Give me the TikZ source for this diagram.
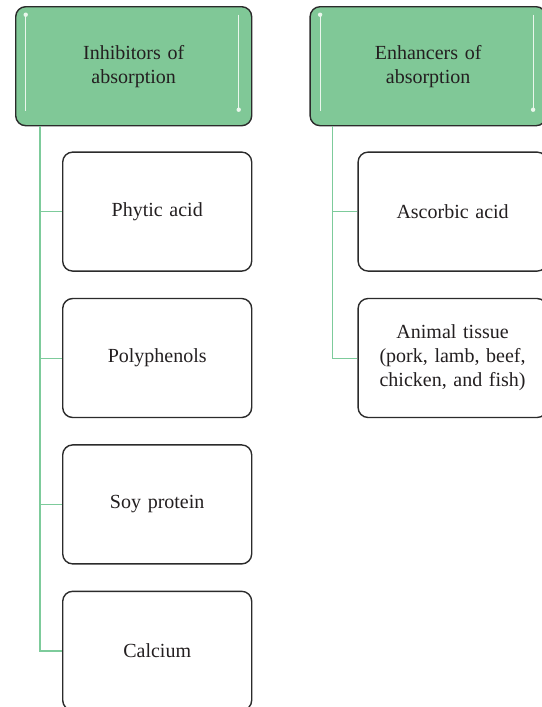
\documentclass[tikz,border=0pt]{standalone}
\usepackage{fontspec}
\setmainfont{Liberation Serif}
\usepackage{tikz}
\usetikzlibrary{positioning}
\definecolor{leafgreen}{HTML}{80C897}
\definecolor{stemgreen}{HTML}{7DCB9B}
\definecolor{boxline}{HTML}{2B2B2B}
\definecolor{textdark}{HTML}{231F20}
\definecolor{shine}{HTML}{EAF6EC}
\tikzset{
	factor/.style={
		draw=boxline, line width=0.7pt, rounded corners=5pt, fill=white,
		minimum width=94.5pt, minimum height=59.5pt, inner sep=2pt,
		text width=90pt, align=center, text=textdark,
		font=\fontsize{10}{12}\selectfont
	},
	group head/.style={
		factor, fill=leafgreen, minimum width=118pt, text width=100pt,
		path picture={
			\draw[shine, line width=0.5pt]
				([xshift=5pt, yshift=-4pt]path picture bounding box.north west) --
				([xshift=5pt, yshift=7.5pt]path picture bounding box.south west);
			\fill[shine] ([xshift=5pt, yshift=-4pt]path picture bounding box.north west) circle (1.1pt);
			\draw[shine, line width=0.5pt]
				([xshift=-6.5pt, yshift=-4pt]path picture bounding box.north east) --
				([xshift=-6.5pt, yshift=8pt]path picture bounding box.south east);
			\fill[shine] ([xshift=-6.5pt, yshift=8pt]path picture bounding box.south east) circle (1.1pt);
		}
	},
	stem/.style={draw=stemgreen, line width=1pt},
	twig/.style={draw=stemgreen, line width=0.5pt}
}
\begin{document}
\begin{tikzpicture}[node distance=13pt]
    \useasboundingbox (0,0) rectangle (270.5pt,-353.5pt);
    \node[group head, anchor=north west] (inh) at (7.5pt,-3pt) {Inhibitors of\\absorption};
    \node[group head, right=28.5pt of inh] (enh) {Enhancers of\\absorption};

    \node[factor, below right=12.5pt and 23.5pt of inh.south west] (phy) {Phytic acid};
    \node[factor, below=of phy] (pol) {Polyphenols};
    \node[factor, below=of pol] (soy) {Soy protein};
    \node[factor, below=of soy] (cal) {Calcium};

    \node[factor, below right=12.5pt and 24pt of enh.south west] (asc) {Ascorbic acid};
    \node[factor, below=of asc] (ani) {Animal tissue\\(pork, lamb, beef,\\chicken, and fish)};

    \coordinate (inh-stem) at ([xshift=12.5pt]inh.south west);
    \coordinate (enh-stem) at ([xshift=11.5pt]enh.south west);

    \draw [stem] (inh-stem) |- (cal.west);
    \draw [twig] (phy.west) -- (phy.west -| inh-stem);
    \draw [twig] (pol.west) -- (pol.west -| inh-stem);
    \draw [twig] (soy.west) -- (soy.west -| inh-stem);

    \draw [twig] (enh-stem) |- (ani.west);
    \draw [twig] (asc.west) -- (asc.west -| enh-stem);
\end{tikzpicture}
\end{document}
